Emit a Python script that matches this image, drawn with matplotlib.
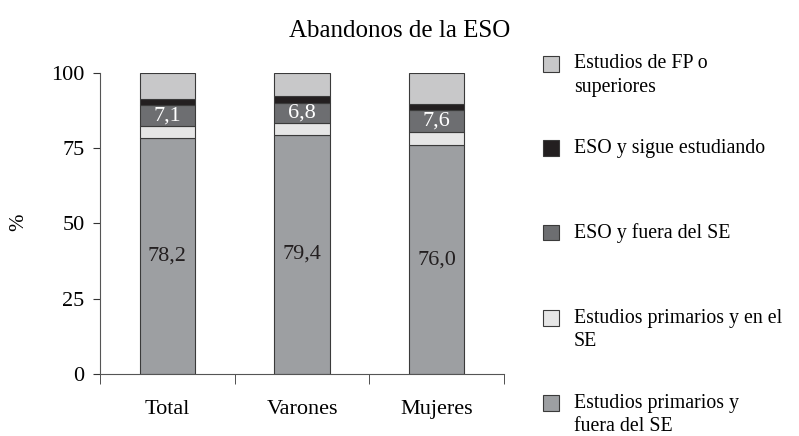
import numpy as np
import matplotlib.pyplot as plt
from matplotlib.patches import Rectangle

plt.rcParams['font.family'] = 'Liberation Serif'

groups = ['Total', 'Varones', 'Mujeres']
series = ['Estudios primarios y\nfuera del SE',
          'Estudios primarios y en el\nSE',
          'ESO y fuera del SE',
          'ESO y sigue estudiando',
          'Estudios de FP o\nsuperiores']
prim_fuera = [78.2, 79.4, 76.0]
prim_se = [4.0, 3.9, 4.2]
eso_fuera = [7.1, 6.8, 7.6]
eso_sigue = [2.0, 2.3, 1.8]
fp_sup = [8.7, 7.6, 10.4]
colors = ['#9d9fa2', '#e6e6e6', '#6d6e71', '#231f20', '#c8c8c9']

values = [prim_fuera, prim_se, eso_fuera, eso_sigue, fp_sup]

fig = plt.figure(figsize=(7.99, 4.36), dpi=100)
ax = fig.add_axes([0.125, 0.142, 0.506, 0.691])

x = np.arange(len(groups))
bottom = np.zeros(len(groups))
for vals, col in zip(values, colors):
    ax.bar(x, vals, 0.41, bottom=bottom, color=col, edgecolor='#3a3a3a', linewidth=0.8)
    bottom += np.array(vals)

# value labels
for i in x:
    ax.text(i, prim_fuera[i] / 2, f'{prim_fuera[i]:.1f}'.replace('.', ','),
            ha='center', va='center', fontsize=16, color='#231f20')
    mid = prim_fuera[i] + prim_se[i] + eso_fuera[i] / 2
    ax.text(i, mid, f'{eso_fuera[i]:.1f}'.replace('.', ','),
            ha='center', va='center', fontsize=16, color='white')

ax.set_xlim(-0.5, 2.5)
ax.set_ylim(0, 100)
ax.set_yticks([0, 25, 50, 75, 100])
ax.set_xticks(x)
ax.set_xticklabels(groups)
ax.set_xticks([-0.5, 0.5, 1.5, 2.5], minor=True)
ax.tick_params(axis='y', labelsize=16, length=5, color='#333333', pad=6)
ax.tick_params(axis='x', which='major', labelsize=16, length=0, pad=19)
ax.tick_params(axis='x', which='minor', length=7, color='#333333')
for s in ['top', 'right']:
    ax.spines[s].set_visible(False)
for s in ['left', 'bottom']:
    ax.spines[s].set_color('#555555')
fig.text(0.024, 0.49, '%', rotation=90, ha='center', va='center', fontsize=15)
fig.text(0.5, 0.93, 'Abandonos de la ESO', ha='center', va='center', fontsize=18)

# legend, top to bottom
leg_y = [0.853, 0.66, 0.466, 0.27, 0.075]
for lab, col, yy in zip(series[::-1], colors[::-1], leg_y):
    fig.add_artist(Rectangle((0.679, yy - 0.017), 0.02, 0.035, transform=fig.transFigure,
                             facecolor=col, edgecolor='#3a3a3a', linewidth=0.8))
    fig.text(0.718, yy + 0.022, lab, ha='left', va='top', fontsize=14.3, linespacing=1.3)

fig.savefig('out.png', dpi=100)
